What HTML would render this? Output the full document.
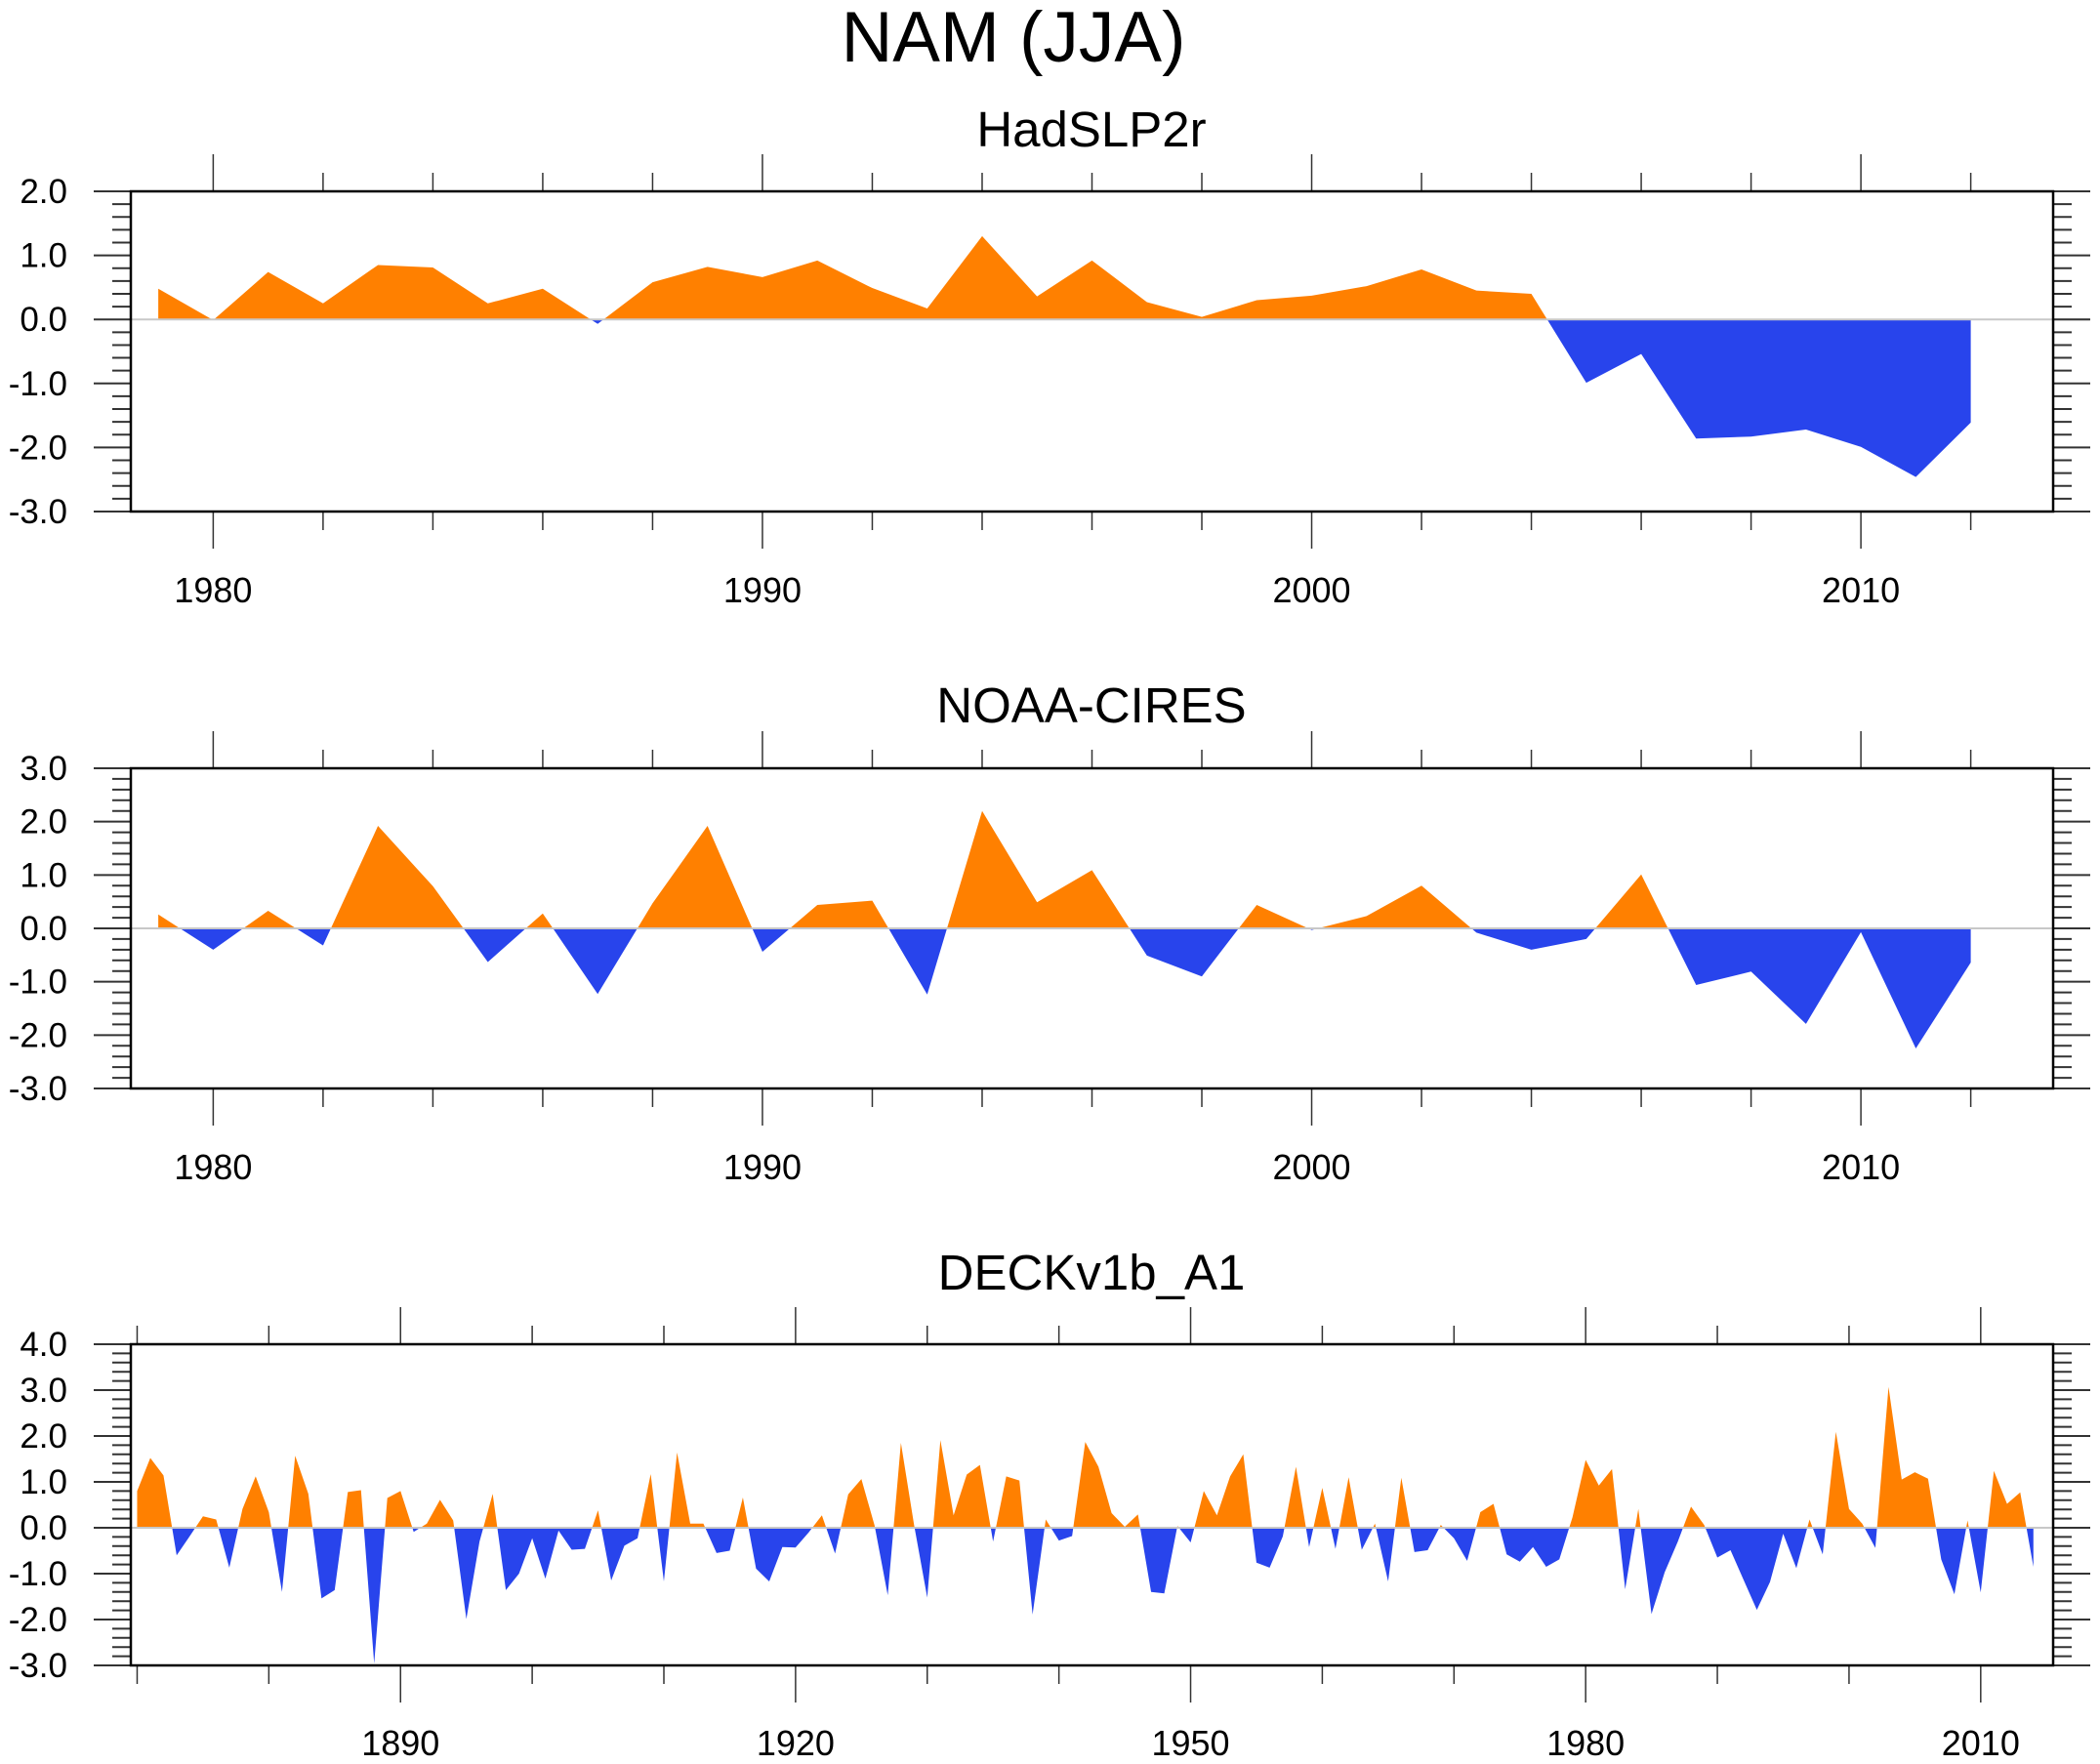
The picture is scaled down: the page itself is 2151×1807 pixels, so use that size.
<!DOCTYPE html>
<html><head><meta charset="utf-8"><title>NAM (JJA)</title>
<style>html,body{margin:0;padding:0;background:#fff}svg{display:block}text{font-family:"Liberation Sans",Arial,sans-serif;fill:#000}</style>
</head><body>
<svg id="chart" xmlns="http://www.w3.org/2000/svg" width="2151" height="1807" viewBox="0 0 2151 1807">
<text x="1038" y="63" font-size="73" text-anchor="middle">NAM (JJA)</text>
</svg>
<script>
const had = [0.48,-0.01,0.74,0.25,0.85,0.81,0.25,0.48,-0.07,0.58,0.82,0.66,0.92,0.49,0.17,1.30,0.36,0.92,0.27,0.04,0.30,0.37,0.52,0.78,0.45,0.40,-0.99,-0.54,-1.86,-1.83,-1.72,-1.99,-2.46,-1.61];
const noaa = [0.26,-0.40,0.33,-0.32,1.92,0.79,-0.63,0.28,-1.23,0.47,1.92,-0.44,0.44,0.52,-1.24,2.20,0.49,1.09,-0.51,-0.90,0.44,-0.03,0.23,0.80,-0.08,-0.40,-0.20,1.01,-1.06,-0.81,-1.79,-0.07,-2.25,-0.64];
const deck = [0.80,1.52,1.14,-0.60,-0.18,0.25,0.18,-0.87,0.41,1.12,0.34,-1.40,1.57,0.74,-1.54,-1.36,0.78,0.82,-2.96,0.65,
0.80,-0.09,0.09,0.61,0.16,-1.99,-0.30,0.74,-1.36,-1.00,-0.23,-1.11,-0.06,-0.48,-0.46,0.38,-1.15,-0.39,-0.23,1.17,
-1.17,1.64,0.09,0.09,-0.55,-0.50,0.66,-0.89,-1.17,-0.42,-0.43,-0.10,0.27,-0.56,0.73,1.06,0.05,-1.47,1.85,0.06,
-1.52,1.91,0.27,1.16,1.37,-0.30,1.12,1.03,-1.89,0.18,-0.28,-0.18,1.87,1.33,0.32,0.02,0.29,-1.40,-1.43,0.04,
-0.32,0.80,0.27,1.12,1.60,-0.76,-0.87,-0.19,1.33,-0.42,0.87,-0.46,1.10,-0.48,0.09,-1.17,1.09,-0.53,-0.49,0.06,
-0.23,-0.72,0.34,0.52,-0.58,-0.74,-0.42,-0.85,-0.69,0.23,1.48,0.92,1.28,-1.34,0.41,-1.88,-0.97,-0.30,0.46,0.06,
-0.65,-0.49,-1.14,-1.79,-1.18,-0.13,-0.88,0.18,-0.58,2.09,0.41,0.09,-0.44,3.07,1.05,1.21,1.07,-0.69,-1.45,0.16,
-1.41,1.24,0.52,0.77,-0.85];
const hadStart = 1979, noaaStart = 1979, deckStart = 1870;
const recentTicks = [1980,1990,2000,2010];
const longTicks = [1890,1920,1950,1980,2010];

const svg = document.getElementById('chart');
const NS = 'http://www.w3.org/2000/svg';
function mk(tag, attrs, parent){const e=document.createElementNS(NS,tag);for(const k in attrs)e.setAttribute(k,attrs[k]);(parent||svg).appendChild(e);return e;}

function panel(cfg){
  const g = mk('g',{});
  
  
  const L=134,R=2103,T=cfg.top,B=cfg.bottom;
  const xs=v=>L+(v-cfg.x0)/(cfg.x1-cfg.x0)*(R-L);
  const ys=v=>T+(cfg.y1-v)/(cfg.y1-cfg.y0)*(B-T);
  const t = mk('text',{x:1118,y:cfg.titleY,'font-size':51,'text-anchor':'middle'},g);
  t.textContent = cfg.title;
  
  
  // build points with zero crossings
  const pts=[];
  cfg.data.forEach((v,i)=>{
    const x=cfg.start+i;
    if(i>0){const p=cfg.data[i-1];if((p>0&&v<0)||(p<0&&v>0)){const f=p/(p-v);pts.push([x-1+f,0]);}}
    pts.push([x,v]);
  });
  const first=pts[0][0],last=pts[pts.length-1][0];
  function poly(clamp,color,nm){
    let d='M'+xs(first)+','+ys(0);
    pts.forEach(p=>{d+=' L'+xs(p[0]).toFixed(2)+','+ys(clamp(p[1])).toFixed(2);});
    d+=' L'+xs(last)+','+ys(0)+' Z';
    const e=mk('path',{d:d,fill:color},g);
    
    
  }
  poly(v=>Math.max(v,0),'#ff8000','-positive-fill');
  poly(v=>Math.min(v,0),'#2844ec','-negative-fill');
  const zl=mk('line',{x1:L,x2:2140,y1:ys(0),y2:ys(0),stroke:'#c8c8c8','stroke-width':2},g);
  
  
  // y ticks
  for(let k=Math.round(cfg.y0*5);k<=Math.round(cfg.y1*5);k++){
    const v=k/5,y=ys(v),maj=(k%5===0),len=maj?38:19;
    mk('line',{x1:L-len,x2:L,y1:y,y2:y,stroke:'#333','stroke-width':2},g);
    mk('line',{x1:R,x2:R+len,y1:y,y2:y,stroke:'#333','stroke-width':2},g);
    if(maj){const tx=mk('text',{x:69,y:y+12,'font-size':35,'text-anchor':'end'},g);tx.textContent=v.toFixed(1);
      
      }
  }
  // x ticks
  for(let yr=Math.ceil(cfg.x0);yr<=cfg.x1;yr++){
    if(yr%cfg.minorStep!==0)continue;
    const x=xs(yr),maj=cfg.labels.includes(yr),len=maj?38:19;
    mk('line',{x1:x,x2:x,y1:T-len,y2:T,stroke:'#333','stroke-width':1.5},g);
    mk('line',{x1:x,x2:x,y1:B,y2:B+len,stroke:'#333','stroke-width':1.5},g);
    if(maj){const tx=mk('text',{x:x,y:cfg.labelY,'font-size':36,'text-anchor':'middle'},g);tx.textContent=yr;
      
      }
  }
  const fr=mk('rect',{x:L,y:T,width:R-L,height:B-T,fill:'none',stroke:'#000','stroke-width':2.5},g);
  
  
}
panel({name:'hadslp2r',title:'HadSLP2r',titleY:150,top:196,bottom:524,y0:-3,y1:2,x0:1978.5,x1:2013.5,data:had,start:hadStart,labels:recentTicks,minorStep:2,labelY:617});
panel({name:'noaa-cires',title:'NOAA-CIRES',titleY:740,top:787,bottom:1115,y0:-3,y1:3,x0:1978.5,x1:2013.5,data:noaa,start:noaaStart,labels:recentTicks,minorStep:2,labelY:1208});
panel({name:'deckv1b-a1',title:'DECKv1b_A1',titleY:1321,top:1377,bottom:1706,y0:-3,y1:4,x0:1869.52,x1:2015.5,data:deck,start:deckStart,labels:longTicks,minorStep:10,labelY:1798});
</script>
</body></html>
